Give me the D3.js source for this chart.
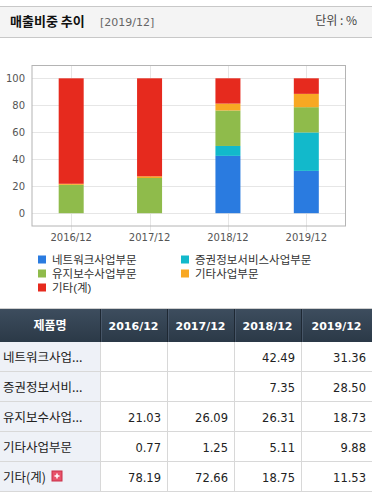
<!DOCTYPE html>
<html><head><meta charset="utf-8">
<script src="https://cdn.jsdelivr.net/npm/d3@7"></script>
<style>
html,body{margin:0;padding:0;background:#fff;}
svg{display:block;}
text{font-family:"Noto Sans CJK KR","DejaVu Sans",sans-serif;}
.num{font-family:"DejaVu Sans",Tahoma,sans-serif;}
.leg{font-family:"Liberation Sans","Noto Sans CJK KR",sans-serif;}
</style></head><body>
<svg id="c" width="372" height="502"></svg>
<script>
const categories = ["2016/12","2017/12","2018/12","2019/12"];
const seriesNames = ["네트워크사업부문","증권정보서비스사업부문","유지보수사업부문","기타사업부문","기타(계)"];
const rowLabels = ["네트워크사업...","증권정보서비...","유지보수사업...","기타사업부문","기타(계)"];
const network = [null,null,42.49,31.36];
const securities = [null,null,7.35,28.50];
const maintenance = [21.03,26.09,26.31,18.73];
const otherBiz = [0.77,1.25,5.11,9.88];
const otherTotal = [78.19,72.66,18.75,11.53];
const yTicks = [0,20,40,60,80,100];
const colors = ["#2a7be0","#12b9cb","#8fbb4b","#f8a823","#e62a1e"];

const seriesValues = [network,securities,maintenance,otherBiz,otherTotal];
const svg = d3.select("#c");

// Header bar
svg.append("rect").attr("x",0).attr("y",6).attr("width",372).attr("height",31).attr("fill","#f4f4f4");
svg.append("line").attr("x1",0).attr("x2",372).attr("y1",6.5).attr("y2",6.5).attr("stroke","#c8c8c8");
svg.append("line").attr("x1",0).attr("x2",372).attr("y1",37.5).attr("y2",37.5).attr("stroke","#c8c8c8");
svg.append("text").attr("x",10).attr("y",26).attr("font-size",13).attr("font-weight","bold").attr("fill","#111").text("매출비중 추이");
svg.append("text").attr("x",100).attr("y",26).attr("font-size",11).attr("fill","#666").attr("class","num").text("[2019/12]");
svg.append("text").attr("x",357).attr("y",25).attr("font-size",12).attr("fill","#444").attr("text-anchor","end").text("단위 : %");

// Chart
const plot = {l:32,r:345.5,t:65.5,b:226};
const x = d3.scaleBand().domain(categories).range([plot.l,plot.r]).padding(0);
const y = d3.scaleLinear().domain([-9.5,109.5]).range([plot.b,plot.t]);
const g = svg.append("g");
// grid
g.selectAll(".hg").data(yTicks).join("line")
  .attr("x1",plot.l).attr("x2",plot.r).attr("y1",d=>Math.round(y(d))+0.5).attr("y2",d=>Math.round(y(d))+0.5)
  .attr("stroke","#e6e6e6");
g.selectAll(".vg").data(categories).join("line")
  .attr("x1",d=>Math.round(x(d)+x.bandwidth()/2)+0.5).attr("x2",d=>Math.round(x(d)+x.bandwidth()/2)+0.5)
  .attr("y1",plot.t).attr("y2",plot.b+5).attr("stroke","#e6e6e6");
g.append("rect").attr("x",plot.l).attr("y",plot.t).attr("width",plot.r-plot.l).attr("height",plot.b-plot.t)
  .attr("fill","none").attr("stroke","#b4b4b4");
// axes labels
const yAxis = d3.axisLeft(y).tickValues(yTicks).tickSize(0).tickPadding(7);
const ya = svg.append("g").attr("transform",`translate(${plot.l},0)`).call(yAxis);
ya.select(".domain").remove();
ya.selectAll("text").attr("font-size",10).attr("fill","#555").attr("class","num");
const xAxis = d3.axisBottom(x).tickSize(0).tickPadding(8);
const xa = svg.append("g").attr("transform",`translate(0,${plot.b})`).call(xAxis);
xa.select(".domain").remove();
xa.selectAll("text").attr("font-size",10).attr("fill","#555").attr("class","num");

// stacked bars
const table = categories.map((c,i)=>{const o={cat:c};seriesNames.forEach((s,j)=>o[s]=seriesValues[j][i]||0);return o;});
const stack = d3.stack().keys(seriesNames)(table);
const bw = 25;
stack.forEach((layer,j)=>{
  g.selectAll(".b"+j).data(layer.filter(d=>d[1]-d[0]>0)).join("rect")
    .attr("x",d=>x(d.data.cat)+x.bandwidth()/2-bw/2)
    .attr("width",bw)
    .attr("y",d=>y(d[1]))
    .attr("height",d=>y(d[0])-y(d[1]))
    .attr("fill",colors[j]);
});

// legend
const legPos = [[38,259.5],[181,259.5],[38,273.5],[181,273.5],[38,287.5]];
seriesNames.forEach((s,j)=>{
  const [lx,ly]=legPos[j];
  svg.append("rect").attr("x",lx).attr("y",ly-4).attr("width",8).attr("height",8).attr("fill",colors[j]);
  svg.append("text").attr("class","leg").attr("x",lx+14).attr("y",ly+4.5).attr("font-size",11.5).attr("fill","#333").text(s);
});

// table
const colX = [0,100,167,234,301,372];
const tTop = 308, hH = 34, rH = 30;
svg.append("line").attr("x1",0).attr("x2",372).attr("y1",tTop+0.5).attr("y2",tTop+0.5).attr("stroke","#cfcfcf");
const defs = svg.append("defs");
const gr = defs.append("linearGradient").attr("id","hg").attr("x1",0).attr("x2",0).attr("y1",0).attr("y2",1);
gr.append("stop").attr("offset","0").attr("stop-color","#3d4d5e");
gr.append("stop").attr("offset","1").attr("stop-color","#2b3947");
svg.append("rect").attr("x",0).attr("y",tTop+1).attr("width",372).attr("height",hH-1).attr("fill","url(#hg)");
for(let k=1;k<colX.length-1;k++){
  svg.append("line").attr("x1",colX[k]+0.5).attr("x2",colX[k]+0.5).attr("y1",tTop+1).attr("y2",tTop+hH).attr("stroke","#1e2833");
  svg.append("line").attr("x1",colX[k]+1.5).attr("x2",colX[k]+1.5).attr("y1",tTop+1).attr("y2",tTop+hH).attr("stroke","#56667a").attr("stroke-opacity",0.6);
}
const headers = ["제품명"].concat(categories);
headers.forEach((h,k)=>{
  svg.append("text").attr("x",(colX[k]+colX[k+1])/2).attr("y",tTop+hH/2+5)
    .attr("text-anchor","middle").attr("font-size",k===0?12:11).attr("font-weight","bold")
    .attr("fill","#fff").attr("class",k===0?null:"num").text(h);
});
const bodyTop = tTop+hH;
rowLabels.forEach((r,i)=>{
  const ry = bodyTop + i*rH;
  svg.append("rect").attr("x",0).attr("y",ry).attr("width",colX[1]).attr("height",rH).attr("fill","#eef1f7");
  svg.append("line").attr("x1",0).attr("x2",372).attr("y1",ry+rH-0.5).attr("y2",ry+rH-0.5).attr("stroke","#d8d8d8");
  svg.append("text").attr("x",3).attr("y",ry+rH/2+5).attr("font-size",12.5).attr("fill","#222").text(r);
  categories.forEach((c,k)=>{
    const v = seriesValues[i][k];
    if(v!=null){
      svg.append("text").attr("x",colX[k+2]-6).attr("y",ry+rH/2+5).attr("text-anchor","end")
        .attr("font-size",11.5).attr("fill","#222").attr("class","num").text(v.toFixed(2));
    }
  });
});
for(let k=1;k<colX.length-1;k++){
  svg.append("line").attr("x1",colX[k]+0.5).attr("x2",colX[k]+0.5).attr("y1",bodyTop).attr("y2",bodyTop+rH*rowLabels.length).attr("stroke","#d8d8d8");
}
// plus icon
const py = bodyTop+4*rH+rH/2;
svg.append("rect").attr("x",52).attr("y",py-6).attr("width",10).attr("height",10).attr("fill","#e8536a").attr("stroke","#c93048");
svg.append("path").attr("d",`M54.5 ${py-1}h5M57 ${py-3.5}v5`).attr("stroke","#fff").attr("stroke-width",1.5);
</script></body></html>
